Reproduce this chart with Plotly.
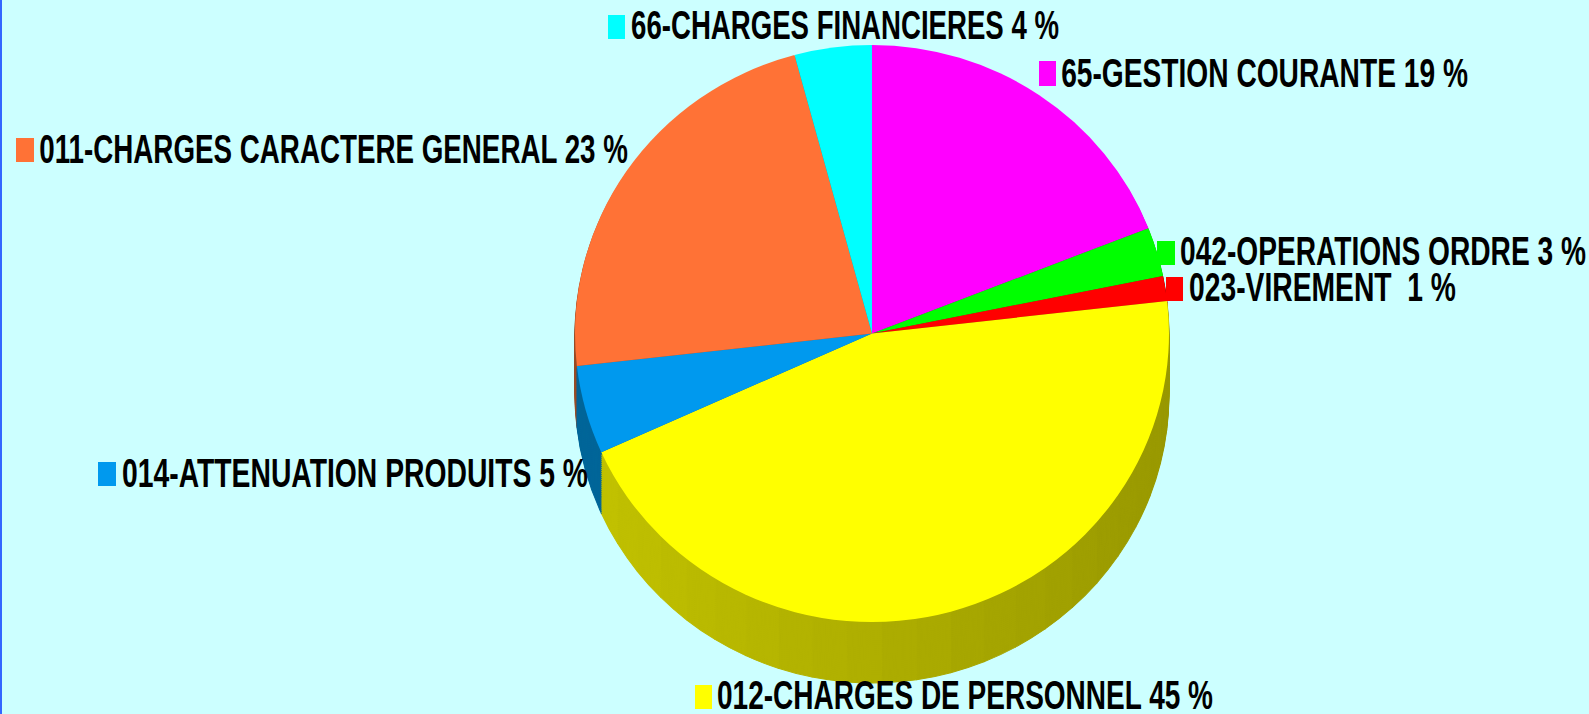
import json
import math
import plotly.graph_objects as go

W, H = 1589, 714

# Data
categories = ["65-GESTION COURANTE", "042-OPERATIONS ORDRE", "023-VIREMENT ",
              "012-CHARGES DE PERSONNEL", "014-ATTENUATION PRODUITS",
              "011-CHARGES CARACTERE GENERAL", "66-CHARGES FINANCIERES"]
values = [19.05, 2.75, 1.4, 45.05, 4.95, 22.6, 4.2]
percent_labels = ["19 %", "3 %", "1 %", "45 %", "5 %", "23 %", "4 %"]

# Styles
top_colors = ["#ff00ff", "#00ff00", "#ff0000", "#ffff00", "#0099ee", "#ff7236", "#00ffff"]
side_colors = ["#990099", "#009900", "#990000", None, "#006699", "#994c26", "#009999"]

# Layout of the labels, in pixels: square x0, x1, y0, y1, text x, text y, text width
label_layout = [
    (1039, 1056, 61, 86, 1059, 73, 407),
    (1157, 1175, 241, 265, 1178, 251, 406),
    (1166, 1183, 277, 301, 1187, 287, 267),
    (695, 712, 685, 709, 715, 695, 496),
    (98, 116, 462, 486, 120, 473, 466),
    (16, 34, 138, 162, 37, 149, 589),
    (608, 625, 15, 39, 629, 25, 428),
]
FONT_SIZE = 41
CX, CY, R, LAYERS, BANDS = 872, 333.5, 292.5, 30, 24
RX, RY, DEPTH_PX = 297, 288.5, 61   # the pie is very slightly elliptical
DEPTH = DEPTH_PX * R / RY
YELLOW = 3


def domain(shift):
    return dict(x=[(CX - R) / W, (CX + R) / W],
                y=[1 - (CY + R + shift) / H, 1 - (CY - R + shift) / H])


# Side wall: the yellow slice is cut into thin bands so its shade can vary
total = sum(values)
side_values, side_cols = [], []
cum = 0.0
for i, v in enumerate(values):
    if i == YELLOW:
        for b in range(BANDS):
            mid = cum + v * (b + 0.5) / BANDS
            s = math.sin(2 * math.pi * mid / total)
            g = round(174 - 21 * s)
            side_values.append(v / BANDS)
            side_cols.append(f"rgb({g},{g},0)")
    else:
        side_values.append(v)
        side_cols.append(side_colors[i])
    cum += v

fig = go.Figure()
for k in range(LAYERS, 0, -1):
    fig.add_trace(go.Pie(
        values=side_values, sort=False, direction="clockwise", rotation=0,
        marker=dict(colors=side_cols, line=dict(color=side_cols, width=1)),
        textinfo="none", hoverinfo="skip", showlegend=False,
        domain=domain(DEPTH * k / LAYERS),
    ))
fig.add_trace(go.Pie(
    labels=categories, values=values, sort=False, direction="clockwise", rotation=0,
    marker=dict(colors=top_colors, line=dict(width=0)),
    textinfo="none", showlegend=False, domain=domain(0),
))

shapes = [dict(type="rect", xref="paper", yref="paper", x0=0, x1=2 / W, y0=0, y1=1,
               fillcolor="#3366ff", line=dict(width=0), layer="above")]
annotations = []
for name, pct, color, (x0, x1, y0, y1, tx, ty, tw) in zip(categories, percent_labels, top_colors, label_layout):
    shapes.append(dict(type="rect", xref="paper", yref="paper", x0=x0 / W, x1=x1 / W,
                       y0=1 - y1 / H, y1=1 - y0 / H, fillcolor=color, line=dict(width=0), layer="above"))
    text = f"{name.strip()} {pct}" if not name.endswith(" ") else f"{name.strip()}\u00a0\u00a0{pct}"
    annotations.append(dict(xref="paper", yref="paper", x=tx / W, y=1 - ty / H, text=f"<b>{text}</b>",
                            showarrow=False, xanchor="left", yanchor="middle",
                            font=dict(family="Liberation Sans", size=FONT_SIZE, color="#000000")))

fig.update_layout(width=W, height=H, margin=dict(l=0, r=0, t=0, b=0),
                  paper_bgcolor="#ccffff", plot_bgcolor="#ccffff",
                  shapes=shapes, annotations=annotations)

# The reference's labels are condensed horizontally; the page has no body margin.
widths = [t[6] for t in label_layout]
post_script = """
document.documentElement.style.overflow = 'hidden';
document.body.style.margin = '0';
document.body.style.overflow = 'hidden';
(function () {
  var widths = %s;
  function squeeze() {
    document.querySelectorAll('.annotation-text').forEach(function (e, i) {
      e.style.transformBox = 'fill-box';
      e.style.transformOrigin = '0 50%%';
      e.style.transform = 'scaleX(' + (widths[i] / e.getBBox().width) + ')';
    });
    var p = document.querySelector('.pielayer');
    if (p) {
      p.style.transformOrigin = '%spx %spx';
      p.style.transform = 'scale(%s, %s)';
    }
  }
  squeeze();
  var gd = document.getElementById('{plot_id}');
  if (gd && gd.on) gd.on('plotly_afterplot', squeeze);
})();
""" % (json.dumps(widths), CX, CY, RX / R, RY / R)
fig.write_html("out.html", post_script=post_script, config={"displayModeBar": False})
